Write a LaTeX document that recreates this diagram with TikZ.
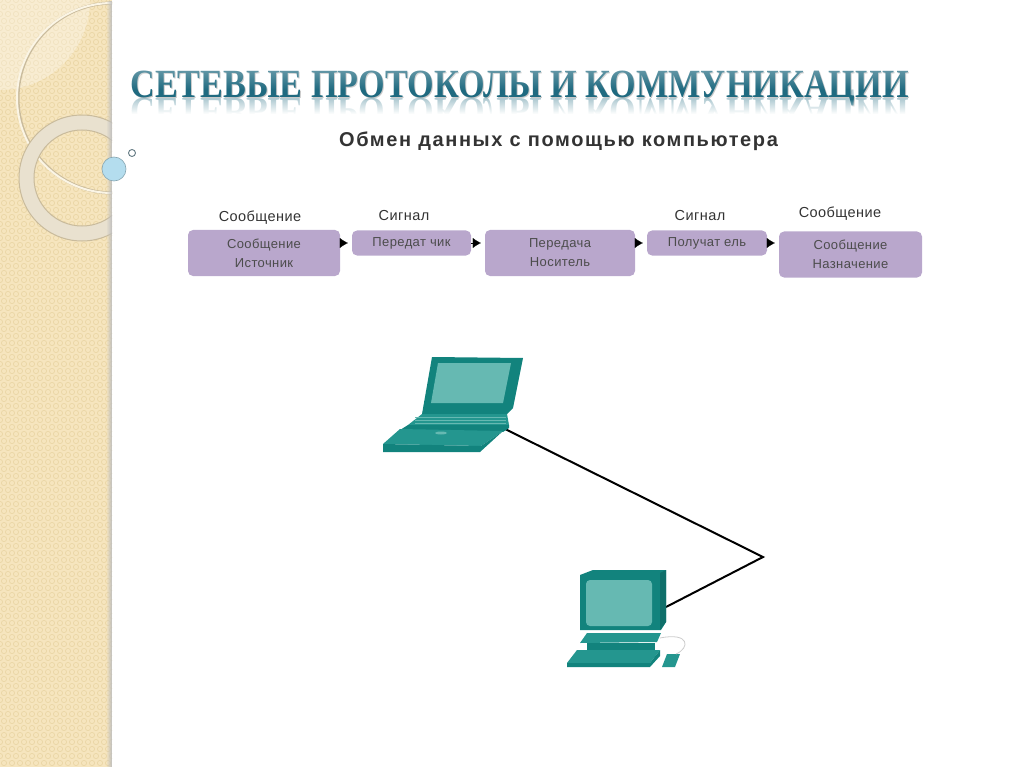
\documentclass[tikz,border=0pt]{standalone}
\usepackage{fontspec}
\setmainfont{Liberation Sans}
\newfontfamily\titlefont{Liberation Serif}
\newfontfamily\headfont[LetterSpace=8]{Liberation Sans}
\newfontfamily\labelfont[LetterSpace=3]{Liberation Sans}
\usetikzlibrary{arrows.meta,fadings}
\definecolor{sidesand}{HTML}{F6E5BE}
\definecolor{sidedot}{HTML}{EAD6A6}
\definecolor{ringcol}{HTML}{E9E1CF}
\definecolor{ringedge}{HTML}{C9BB9C}
\definecolor{ballcol}{HTML}{B4DDEE}
\definecolor{boxcol}{HTML}{B9A7CC}
\definecolor{titlecol}{HTML}{1F6A80}
\definecolor{pcdark}{HTML}{12837D}
\definecolor{pcmid}{HTML}{24968F}
\definecolor{pcscreen}{HTML}{66B9B2}
\tikzset{
	stagebox/.style={fill=boxcol, rounded corners=5pt, align=center, text=black!70,
		font=\labelfont\fontsize{13}{19}\selectfont},
	toplabel/.style={text=black!80, font=\labelfont\fontsize{14.5}{16}\selectfont},
	tiparrow/.style={-{Latex[length=8pt,width=10pt]}, black, line width=0.1pt, shorten >=4pt},
	titletext/.style={font=\titlefont\bfseries\fontsize{40}{40}\selectfont, anchor=base, xscale=0.855}
}
\begin{document}
\begin{tikzpicture}[x=1pt, y=-1pt]
			%%%%% START %%%%%
			\useasboundingbox (0, 0) rectangle (1024, 767);
			
			% side band
			\begin{scope}
				\clip (0, 0) rectangle (112, 767);
				\fill[sidesand] (0, 0) rectangle (112, 767);
				\foreach \row in {0,...,110} {
					\pgfmathsetmacro{\shift}{mod(\row,2)*4}
					\foreach \col in {0,...,14} {
						\draw[sidedot, line width=0.7pt] (\col*8+\shift, \row*7) circle (2.6);
					}
				}
				\fill[white, opacity=0.3] (0, 0) circle (90);
				\draw[ringedge, line width=3pt] (113, 98) circle (95);
				\draw[white!60!sidesand, line width=2pt] (112, 98) circle (95);
				\fill[ringcol, even odd rule] (82, 178) circle (63) (82, 178) circle (48);
				\draw[ringedge, line width=1pt] (82, 178) circle (63) (82, 178) circle (48);
				\fill[black!25, path fading=west] (106, 0) rectangle (112, 767);
			\end{scope}
			\fill[ballcol] (114, 169) circle (12);
			\draw[black!25!ballcol, line width=0.6pt] (114, 169) circle (12);
			\draw[black!45!ballcol, line width=0.9pt] (132, 153) circle (3.5);
			
			% title with its reflection
			\node[titletext, text=black!30, opacity=0.7] at (520.5, 98.5) {СЕТЕВЫЕ ПРОТОКОЛЫ И КОММУНИКАЦИИ};
			\node[titletext, text=titlecol] (title) at (519.5, 97.5) {СЕТЕВЫЕ ПРОТОКОЛЫ И КОММУНИКАЦИИ};
			\fill[white, opacity=0.3, path fading=south] (125, 70) rectangle (915, 90);
			\node[titletext, text=titlecol, opacity=0.35, yscale=-1] (titlemirror) at (519.5, 99) {СЕТЕВЫЕ ПРОТОКОЛЫ И КОММУНИКАЦИИ};
			\fill[white, path fading=north] (125, 99) rectangle (915, 114);
			\fill[white] (125, 114) rectangle (915, 130);
			
			\node[text=black!80, font=\headfont\bfseries\fontsize{20}{22}\selectfont] (head) at (558.5, 141) {Обмен данных с помощью компьютера};
			
			% stages
			\node[stagebox, minimum width=152pt, minimum height=46pt] (source) at (264, 253) {Сообщение\\Источник};
			\node[stagebox, minimum width=119pt, minimum height=25pt] (sender) at (411.5, 243) {Передат чик};
			\node[stagebox, minimum width=150pt, minimum height=46pt] (medium) at (560, 253) {Передача\\Носитель};
			\node[stagebox, minimum width=120pt, minimum height=25pt] (receiver) at (707, 243) {Получат ель};
			\node[stagebox, minimum width=143pt, minimum height=46pt] (target) at (850.5, 254.5) {Сообщение\\Назначение};
			
			\node[toplabel] (msgleft) at (260, 217.5) {Сообщение};
			\node[toplabel] (sigleft) at (404, 215.5) {Сигнал};
			\node[toplabel] (sigright) at (700, 216) {Сигнал};
			\node[toplabel] (msgright) at (840, 214) {Сообщение};
			
			\draw[tiparrow] (source.east |- sender.west) -- (sender.west);
			\draw[tiparrow] (sender.east) -- (sender.east -| medium.west);
			\draw[tiparrow] (medium.east |- receiver.west) -- (receiver.west);
			\draw[tiparrow] (receiver.east) -- (receiver.east -| target.west);
			
			% wire
			\coordinate (laptopport) at (503, 428);
			\coordinate (bend) at (763, 557);
			\coordinate (pcport) at (666, 607);
			\draw[line width=2pt, black] (laptopport) -- (bend) -- (pcport);
			
			% laptop
			\fill[pcdark] (432, 357) -- (523, 358) -- (513, 408) -- (507, 414) -- (422, 414) -- cycle;
			\fill[pcscreen] (438, 363) -- (511, 363) -- (503, 403) -- (431, 403) -- cycle;
			\fill[pcmid] (422, 414) -- (507, 414) -- (509, 425) -- (408, 425) -- cycle;
			\foreach \ky in {417, 420, 423} {
				\draw[pcscreen, line width=0.5pt] (415, \ky) -- (506, \ky);
			}
			\fill[pcdark] (408, 425) -- (509, 425) -- (509, 428) -- (503, 432) -- (400, 430) -- cycle;
			\fill[pcmid] (400, 429) -- (503, 431) -- (481, 446) -- (383, 444) -- cycle;
			\fill[pcdark] (383, 444) -- (481, 446) -- (503, 431) -- (480, 452) -- (383, 452) -- cycle;
			\fill[pcscreen] (441, 433) ellipse (6 and 1.5);
			
			% computer
			\fill[pcdark] (580, 575) -- (593, 570) -- (666, 570) -- (666, 622) -- (661, 630) -- (580, 630) -- cycle;
			\fill[black!15!pcdark] (660, 573) -- (666, 570) -- (666, 622) -- (660, 630) -- cycle;
			\fill[pcscreen, rounded corners=4pt] (586, 580) rectangle (652, 626);
			\fill[pcmid] (587, 633) -- (661, 633) -- (657, 642) -- (580, 643) -- cycle;
			\fill[pcdark] (587, 643) rectangle (655, 650);
			\fill[pcmid] (577, 650) -- (660, 650) -- (650, 663) -- (567, 663) -- cycle;
			\fill[pcdark] (567, 663) -- (650, 663) -- (660, 650) -- (660, 656) -- (650, 667) -- (567, 667) -- cycle;
			\fill[pcmid] (667, 654) -- (680, 654) -- (675, 667) -- (662, 667) -- cycle;
			\draw[black!20, line width=0.8pt] (660, 638) .. controls (690, 632) and (690, 648) .. (676, 654);
			
			%%%%% END %%%%%
		\end{tikzpicture}
\end{document}
